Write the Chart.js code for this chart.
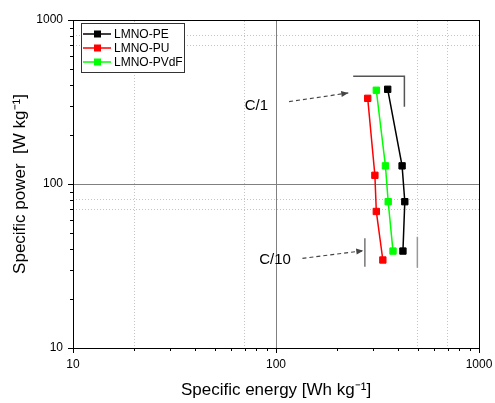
<!DOCTYPE html>
<html>
<head>
<meta charset="utf-8">
<script src="https://cdn.jsdelivr.net/npm/chart.js@4"></script>
<style>
  html, body { margin: 0; padding: 0; background: #fff; }
  #wrap { width: 495px; height: 403px; }
</style>
</head>
<body>
<div id="wrap"><canvas id="c" width="495" height="403"></canvas></div>
<script>
// Ragone plot: specific power vs specific energy, log-log

const FONT = '"Liberation Sans", Arial, sans-serif'

const SERIES = ['LMNO-PE', 'LMNO-PU', 'LMNO-PVdF']
const COLORS = ['#000000', '#ff0000', '#00ff00']

const ENERGY_PE = [355, 418, 431, 422]
const POWER_PE = [378, 129, 78, 39]
const ENERGY_PU = [283, 307, 312, 336]
const POWER_PU = [333, 113, 68, 34.4]
const ENERGY_PVDF = [312, 346, 357, 377]
const POWER_PVDF = [373, 129, 78, 39]

const X_TICK_LABELS = [10, 100, 1000]
const Y_TICK_LABELS = [10, 100, 1000]
const MINOR = [10, 20, 30, 40, 50, 60, 70, 80, 90, 100, 200, 300, 400, 500, 600, 700, 800, 900, 1000]
const X_DOTTED = [20, 70, 500, 700]
const Y_DOTTED = [70, 80, 700, 800]

// rate annotations (data coordinates)
const C1_BRACKET_X = [240, 429, 429]
const C1_BRACKET_Y = [454, 454, 296]
const C10_LEFT_X = [274, 274]
const C10_LEFT_Y = [46.7, 31.3]
const C10_RIGHT_X = [497, 497]
const C10_RIGHT_Y = [47.6, 30.9]
const C1_ARROW_X = [116, 227]
const C1_ARROW_Y = [318, 359]
const C10_ARROW_X = [135, 269]
const C10_ARROW_Y = [35.2, 39.2]
const RATE_LABELS = [['C/1', 80, 299], ['C/10', 99, 34.4]]

const pts = (xs, ys) => xs.map((x, i) => ({ x, y: ys[i] }))

const seriesData = [
  pts(ENERGY_PE, POWER_PE),
  pts(ENERGY_PU, POWER_PU),
  pts(ENERGY_PVDF, POWER_PVDF),
]

const datasets = seriesData.map((d, i) => ({
  label: SERIES[i],
  data: d,
  borderColor: COLORS[i],
  backgroundColor: COLORS[i],
  borderWidth: 1.5,
  pointStyle: 'rect',
  pointRadius: 4.5,
  pointBorderWidth: 1,
  pointBorderColor: COLORS[i],
  pointBackgroundColor: COLORS[i],
  tension: 0,
}))

const deco = (data, color, width, dash) => ({
  label: '',
  data,
  borderColor: color,
  borderWidth: width,
  borderDash: dash || [],
  pointRadius: 0,
  tension: 0,
})

datasets.push(
  deco(pts(C1_BRACKET_X, C1_BRACKET_Y), '#555555', 1.5),
  deco(pts(C10_LEFT_X, C10_LEFT_Y), '#777777', 1.5),
  deco(pts(C10_RIGHT_X, C10_RIGHT_Y), '#999999', 1.5),
  Object.assign(deco(pts(C1_ARROW_X, C1_ARROW_Y), '#444444', 1.2, [4, 3]), { arrow: true }),
  Object.assign(deco(pts(C10_ARROW_X, C10_ARROW_Y), '#444444', 1.2, [4, 3]), { arrow: true }),
)

const setTicks = values => scale => { scale.ticks = values.map(v => ({ value: v })) }
// fixed box size, and drop the label overflow padding so the plot area sits where it should
const fixBox = (w, h) => s => {
  if (w != null) s.width = w
  if (h != null) s.height = h
  s.paddingLeft = 0
  s.paddingRight = 0
  s.paddingTop = 0
  s.paddingBottom = 0
}

const extras = {
  id: 'extras',
  afterDatasetsDraw(chart) {
    const { ctx, scales: { x, y } } = chart
    ctx.save()
    // arrow heads
    chart.data.datasets.forEach(ds => {
      if (!ds.arrow) return
      const a = ds.data[ds.data.length - 2], b = ds.data[ds.data.length - 1]
      const x1 = x.getPixelForValue(a.x), y1 = y.getPixelForValue(a.y)
      const x2 = x.getPixelForValue(b.x), y2 = y.getPixelForValue(b.y)
      const ang = Math.atan2(y2 - y1, x2 - x1)
      ctx.fillStyle = ds.borderColor
      ctx.beginPath()
      ctx.moveTo(x2, y2)
      ctx.lineTo(x2 - 7 * Math.cos(ang) + 3 * Math.sin(ang), y2 - 7 * Math.sin(ang) - 3 * Math.cos(ang))
      ctx.lineTo(x2 - 7 * Math.cos(ang) - 3 * Math.sin(ang), y2 - 7 * Math.sin(ang) + 3 * Math.cos(ang))
      ctx.closePath()
      ctx.fill()
    })
    // rate labels
    ctx.fillStyle = '#000'
    ctx.font = `15px ${FONT}`
    ctx.textAlign = 'center'
    ctx.textBaseline = 'middle'
    RATE_LABELS.forEach(([t, vx, vy]) => ctx.fillText(t, x.getPixelForValue(vx), y.getPixelForValue(vy)))
    ctx.restore()
  },
  afterDraw(chart) {
    const { ctx, chartArea: a, scales: { x, y } } = chart
    ctx.save()
    // outward tick marks, majors longer
    ctx.strokeStyle = '#000'
    ctx.lineWidth = 1
    ctx.beginPath()
    MINOR.forEach(v => {
      const px = Math.round(x.getPixelForValue(v)) + 0.5
      ctx.moveTo(px, a.bottom)
      ctx.lineTo(px, a.bottom + (X_TICK_LABELS.includes(v) ? 5 : 3))
      const py = Math.round(y.getPixelForValue(v)) + 0.5
      ctx.moveTo(a.left, py)
      ctx.lineTo(a.left - (Y_TICK_LABELS.includes(v) ? 5 : 3), py)
    })
    ctx.stroke()

    // legend box
    const lx = 81, ly = 23, lw = 103, lh = 49
    ctx.fillStyle = '#fff'
    ctx.fillRect(lx, ly, lw, lh)
    ctx.strokeStyle = '#333'
    ctx.strokeRect(lx + 0.5, ly + 0.5, lw, lh)
    ctx.font = `12px ${FONT}`
    ctx.textAlign = 'left'
    ctx.textBaseline = 'middle'
    SERIES.forEach((name, i) => {
      const ry = ly + 11 + i * 14
      ctx.strokeStyle = COLORS[i]
      ctx.lineWidth = 1.5
      ctx.beginPath()
      ctx.moveTo(lx + 2, ry)
      ctx.lineTo(lx + 30, ry)
      ctx.stroke()
      ctx.fillStyle = COLORS[i]
      ctx.fillRect(lx + 13, ry - 3.5, 7, 7)
      ctx.fillStyle = '#000'
      ctx.fillText(name, lx + 33, ry + 0.5)
    })
    ctx.restore()
  },
}

const gridSolid = ctx => (ctx.tick && ctx.tick.value === 100 ? '#808080' : 'rgba(0,0,0,0)')

new Chart(document.getElementById('c'), {
  type: 'line',
  data: { datasets },
  options: {
    responsive: false,
    animation: false,
    layout: { padding: { left: 0, right: 16, top: 20, bottom: 0 } },
    plugins: { legend: { display: false }, tooltip: { enabled: false } },
    scales: {
      x: {
        type: 'logarithmic',
        position: 'bottom',
        min: 10,
        max: 1000,
        afterBuildTicks: setTicks(MINOR),
        afterFit: fixBox(null, 55),
        grid: { color: gridSolid, lineWidth: 1, drawTicks: false },
        border: { display: true, color: '#000', width: 1 },
        ticks: {
          autoSkip: false,
          maxRotation: 0,
          padding: 9,
          color: '#000',
          font: { family: FONT, size: 12 },
          callback: v => (X_TICK_LABELS.includes(v) ? String(v) : ''),
        },
        title: {
          display: true,
          text: 'Specific energy [Wh kg⁻¹]',
          color: '#000',
          font: { family: FONT, size: 17 },
          padding: { top: 0, bottom: 2 },
        },
      },
      x2: {
        type: 'logarithmic',
        position: 'top',
        min: 10,
        max: 1000,
        afterBuildTicks: setTicks(X_DOTTED),
        afterFit: fixBox(null, 0),
        grid: { color: '#c4c4c4', lineWidth: 1, drawTicks: false },
        border: { display: true, color: '#000', width: 1, dash: [1, 2] },
        ticks: { display: false },
      },
      y: {
        type: 'logarithmic',
        position: 'left',
        min: 10,
        max: 1000,
        afterBuildTicks: setTicks(MINOR),
        afterFit: fixBox(73, null),
        grid: { color: gridSolid, lineWidth: 1, drawTicks: false },
        border: { display: true, color: '#000', width: 1 },
        ticks: {
          autoSkip: false,
          padding: 10,
          color: '#000',
          font: { family: FONT, size: 12 },
          callback: v => (Y_TICK_LABELS.includes(v) ? String(v) : ''),
        },
        title: {
          display: true,
          text: 'Specific power  [W kg⁻¹]',
          color: '#000',
          font: { family: FONT, size: 17 },
          padding: { top: 10, bottom: 0 },
        },
      },
      y2: {
        type: 'logarithmic',
        position: 'right',
        min: 10,
        max: 1000,
        afterBuildTicks: setTicks(Y_DOTTED),
        afterFit: fixBox(0, null),
        grid: { color: '#c4c4c4', lineWidth: 1, drawTicks: false },
        border: { display: true, color: '#000', width: 1, dash: [1, 2] },
        ticks: { display: false },
      },
    },
  },
  plugins: [extras],
})
</script>
</body>
</html>
